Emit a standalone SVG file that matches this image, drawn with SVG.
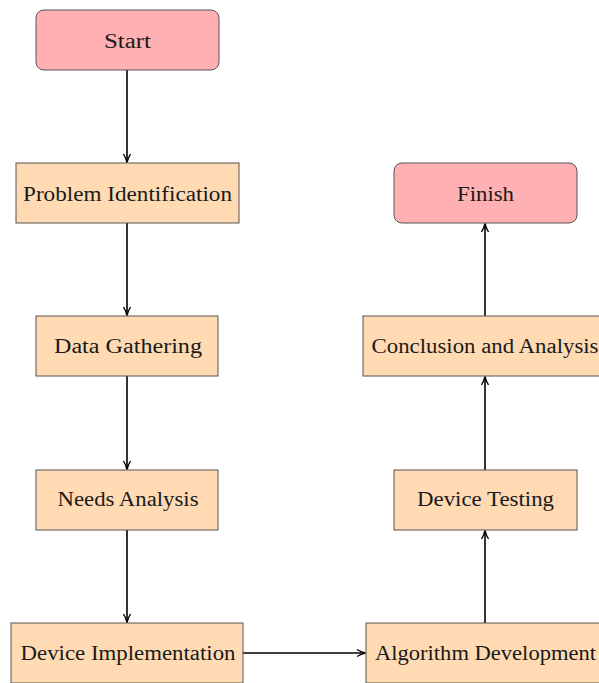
<svg xmlns="http://www.w3.org/2000/svg" width="599" height="683" viewBox="0 0 599 683">
<style>
.box{fill:#FFDAB3;stroke:#555;stroke-width:1}
.term{fill:#FFB0B3;stroke:#555;stroke-width:1}
text{font-family:"Liberation Serif","DejaVu Serif",serif;font-size:20px;fill:#1a1a1a;text-anchor:middle;dominant-baseline:central}
.c{stroke:#000;stroke-width:1.6;fill:none;marker-end:url(#ah)}
</style>
<defs>
<marker id="ah" viewBox="0 0 10 10" refX="9" refY="5" markerWidth="10" markerHeight="10" markerUnits="userSpaceOnUse" orient="auto">
<path d="M1,1.5 Q5,4 9.5,5 Q5,6 1,8.5" fill="none" stroke="#000" stroke-width="1.4"/>
</marker>
</defs>
<g id="connectors">
<line class="c" x1="127" y1="70" x2="127" y2="162"/>
<line class="c" x1="127" y1="223" x2="127" y2="315"/>
<line class="c" x1="127" y1="376" x2="127" y2="469"/>
<line class="c" x1="127" y1="530" x2="127" y2="622"/>
<line class="c" x1="243" y1="653" x2="365" y2="653"/>
<line class="c" x1="485" y1="623" x2="485" y2="531"/>
<line class="c" x1="485" y1="470" x2="485" y2="377"/>
<line class="c" x1="485" y1="316" x2="485" y2="224"/>
</g>
<g id="start"><rect class="term" x="36" y="10" width="183" height="60" rx="8"/><text x="127.5" y="41" textLength="47" lengthAdjust="spacingAndGlyphs">Start</text></g>
<g id="problem"><rect class="box" x="16" y="163" width="223" height="60"/><text x="127.5" y="194" textLength="209" lengthAdjust="spacingAndGlyphs">Problem Identification</text></g>
<g id="data"><rect class="box" x="36" y="316" width="182" height="60"/><text x="128" y="346" textLength="148" lengthAdjust="spacingAndGlyphs">Data Gathering</text></g>
<g id="needs"><rect class="box" x="36" y="470" width="182" height="60"/><text x="128" y="499" textLength="141" lengthAdjust="spacingAndGlyphs">Needs Analysis</text></g>
<g id="impl"><rect class="box" x="11" y="623" width="232" height="60"/><text x="128" y="653" textLength="215" lengthAdjust="spacingAndGlyphs">Device Implementation</text></g>
<g id="algo"><rect class="box" x="366" y="623" width="240" height="60"/><text x="485.5" y="653" textLength="221" lengthAdjust="spacingAndGlyphs">Algorithm Development</text></g>
<g id="testing"><rect class="box" x="394" y="470" width="183" height="60"/><text x="485.5" y="499" textLength="137" lengthAdjust="spacingAndGlyphs">Device Testing</text></g>
<g id="conclusion"><rect class="box" x="363" y="316" width="246" height="60"/><text x="485" y="346" textLength="227" lengthAdjust="spacingAndGlyphs">Conclusion and Analysis</text></g>
<g id="finish"><rect class="term" x="394" y="163" width="183" height="60" rx="8"/><text x="485.5" y="194" textLength="57" lengthAdjust="spacingAndGlyphs">Finish</text></g>
</svg>
